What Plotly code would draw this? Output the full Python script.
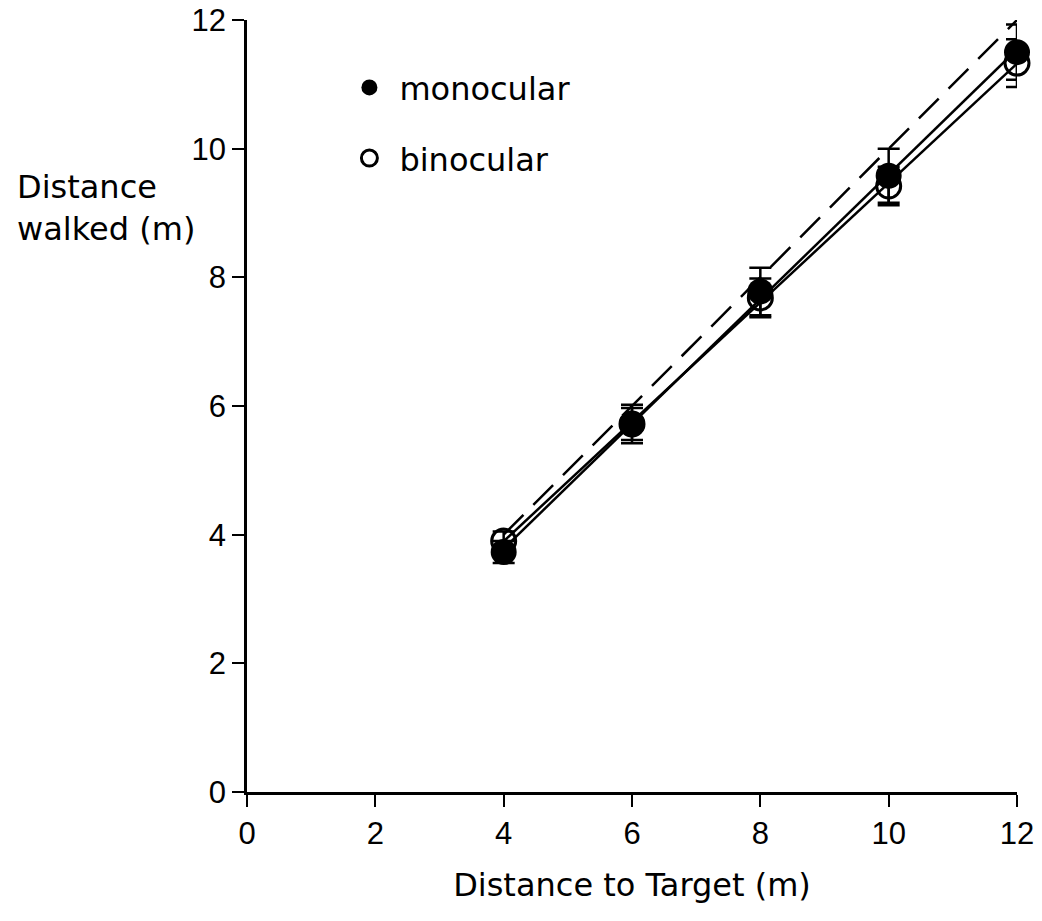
import numpy as np
import plotly.graph_objects as go

target = [4, 6, 8, 10, 12]
mono = [3.73, 5.72, 7.78, 9.58, 11.50]
mono_err = [0.17, 0.25, 0.37, 0.42, 0.43]
bino = [3.90, 5.72, 7.68, 9.42, 11.33]
bino_err = [0.15, 0.30, 0.30, 0.30, 0.37]
x_ticks = [0, 2, 4, 6, 8, 10, 12]
y_ticks = [0, 2, 4, 6, 8, 10, 12]

TICKFONT = "Liberation Sans, Arial, sans-serif"
TEXTFONT = "DejaVu Sans, Liberation Sans, sans-serif"

fig = go.Figure()

# identity (dashed) line
fig.add_trace(go.Scatter(x=[target[0], target[-1]], y=[target[0], target[-1]], mode="lines",
                         line=dict(color="black", width=2.5, dash="28px,14px"), showlegend=False,
                         hoverinfo="skip"))

# regression lines
xs = np.array(target, dtype=float)
for ys in (bino, mono):
    k, b = np.polyfit(xs, np.array(ys), 1)
    fx = [xs[0], xs[-1]]
    fig.add_trace(go.Scatter(x=fx, y=[k * v + b for v in fx], mode="lines",
                             line=dict(color="black", width=2.5), showlegend=False,
                             hoverinfo="skip"))

fig.add_trace(go.Scatter(x=target, y=bino, mode="markers", name="binocular",
                         legendgroup="b", legendrank=2,
                         marker=dict(symbol="circle-open", size=24, color="black",
                                     line=dict(width=3, color="black")),
                         error_y=dict(type="data", array=bino_err, color="black",
                                      thickness=2.5, width=11),
                         cliponaxis=False))
fig.add_trace(go.Scatter(x=target, y=mono, mode="markers", name="monocular",
                         legendgroup="m", legendrank=1,
                         marker=dict(symbol="circle", size=26, color="black"),
                         error_y=dict(type="data", array=mono_err, color="black",
                                      thickness=2.5, width=11),
                         cliponaxis=False))

fig.add_annotation(text="Distance<br>walked (m)", xref="paper", yref="y",
                   x=(15 - 247) / 770, y=9.08, xanchor="left", yanchor="middle", align="left",
                   showarrow=False, font=dict(family=TEXTFONT, size=32, color="black"))

axis_common = dict(showgrid=False, zeroline=False, showline=True, linecolor="black",
                   linewidth=2.5, ticks="outside", ticklen=12, tickwidth=1.5,
                   tickcolor="black", ticklabeloverflow="allow",
                   tickfont=dict(family=TICKFONT, size=31, color="black"))

fig.update_xaxes(range=[0, 12], tickvals=x_ticks, ticktext=[str(v) for v in x_ticks],
                 title=dict(text="Distance to Target (m)",
                            font=dict(family=TEXTFONT, size=32, color="black"),
                            standoff=24),
                 **axis_common)
fig.update_yaxes(range=[0, 12], tickvals=y_ticks, ticktext=[str(v) for v in y_ticks],
                 **axis_common)

fig.update_layout(width=1042, height=921, plot_bgcolor="white", paper_bgcolor="white",
                  margin=dict(l=247, r=25, t=20, b=129, autoexpand=False),
                  font=dict(family=TEXTFONT, color="black"),
                  legend=dict(x=0.12, y=0.948, xanchor="left", yanchor="top",
                              font=dict(family=TEXTFONT, size=32, color="black"),
                              tracegroupgap=26, itemsizing="trace", itemwidth=50,
                              bgcolor="rgba(0,0,0,0)"))

fig.write_html("out.html", config={"displayModeBar": False},
               post_script="document.body.style.margin='0';document.body.style.overflow='hidden';")
